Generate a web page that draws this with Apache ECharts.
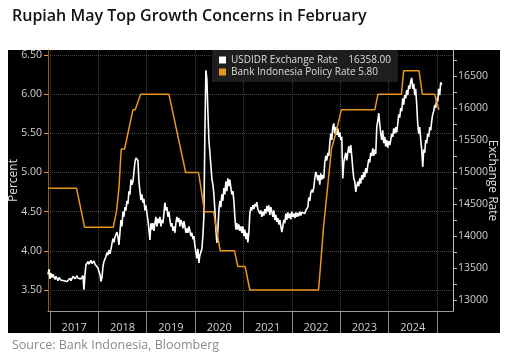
<!DOCTYPE html>
<html><head><meta charset="utf-8">
<script src="https://cdn.jsdelivr.net/npm/echarts@6/dist/echarts.min.js"></script>
<style>html,body{margin:0;padding:0;background:#fff}#c{width:512px;height:359px}</style>
</head><body><div id="c"></div>
<script>
// ---- data ----
const titleText = 'Rupiah May Top Growth Concerns in February';
const sourceText = 'Source: Bank Indonesia, Bloomberg';
const seriesNames = ['USDIDR Exchange Rate', 'Bank Indonesia Policy Rate'];
const lastValueLabels = ['16358.00', '5.80'];
const yearTicks = [2017, 2018, 2019, 2020, 2021, 2022, 2023, 2024, 2025];
const yearLabelPos = [2017.5, 2018.5, 2019.5, 2020.5, 2021.5, 2022.5, 2023.5, 2024.5];
const pctTicks = [3.5, 4.0, 4.5, 5.0, 5.5, 6.0, 6.5];
const fxLabelTicks = [13000, 13500, 14000, 14500, 15000, 15500, 16000, 16500];
const fxTicks = [13000, 13250, 13500, 13750, 14000, 14250, 14500, 14750, 15000, 15250, 15500, 15750, 16000, 16250, 16500, 16750];

// Policy rate: [decimal year, percent]
const rateTime = [2016.959, 2017.548, 2017.717, 2018.308, 2018.374, 2018.426, 2018.473, 2018.543, 2018.715, 2018.762, 2018.874,
  2019.459, 2019.806, 2020.072, 2020.196, 2020.382, 2020.519, 2020.816, 2020.884, 2021.035, 2021.132,
  2022.552, 2022.593, 2022.655, 2022.738, 2022.820, 2022.909, 2023.023, 2023.715, 2023.783, 2024.267, 2024.314,
  2024.630, 2024.700, 2024.955, 2025.043];
const rateValues = [4.8, 4.8, 4.3, 4.3, 4.5, 4.8, 5.3, 5.3, 5.8, 5.8, 6.0,
  6.0, 5.0, 5.0, 4.5, 4.5, 4.0, 4.0, 3.8, 3.8, 3.5,
  3.5, 3.8, 4.3, 4.8, 5.3, 5.5, 5.8, 5.8, 6.0, 6.0, 6.3,
  6.3, 6.0, 6.0, 5.8];

// USDIDR readings, one every ~7.5 days starting at fxStart (decimal year)
const fxStart = 2016.959;
const fxStep = 0.020661;
const fxValues = [
13400,13480,13330,13420,13350,13400,13360,13320,13370,13360,13300,13350,13340,13310,13290,13330,13300,13280,13320,13290,
13300,13320,13340,13300,13310,13370,13340,13330,13360,13380,13340,13360,13370,13330,13360,13380,13160,13400,13550,13570,
13600,13560,13580,13620,13570,13590,13610,13560,13590,13580,13500,13440,13400,13290,13350,13520,13600,13620,13680,13740,
13700,13780,13720,13790,13880,13960,13900,13980,13950,14060,13990,13860,14050,14250,14150,14380,14300,14450,14400,14550,
14500,14700,14650,14880,14800,14850,15000,15150,15220,15240,15180,14850,14700,14560,14650,14520,14580,14400,14480,14350,
14250,14100,13940,14200,14100,14200,14080,14200,14300,14150,14270,14200,14300,14150,14250,14200,14350,14520,14400,14450,
14300,14380,14250,14150,14200,14080,14150,14050,14200,14300,14220,14280,14150,14250,14200,14120,14230,14150,14050,14120,
14050,14150,14080,14000,14050,13950,14000,13850,13750,13650,13800,13580,13700,13750,13800,14000,14300,15600,16590,16450,
15950,15500,15300,15100,14900,14800,14650,14400,14100,13890,14100,14400,14550,14450,14650,14550,14750,14650,14850,14700,
14900,14780,14880,14750,14650,14700,14550,14300,14100,14200,14100,14180,14080,14150,14050,14150,14000,14100,13950,14050,
13900,14050,14350,14450,14400,14480,14420,14500,14460,14530,14420,14450,14350,14400,14300,14380,14320,14420,14350,14470,
14380,14480,14330,14450,14380,14300,14400,14250,14330,14220,14280,14180,14250,14150,14060,14150,14250,14200,14350,14250,
14370,14280,14350,14260,14380,14300,14350,14280,14370,14300,14360,14310,14380,14320,14370,14340,14390,14350,14400,14380,
14450,14600,14550,14680,14720,14680,14760,14900,15000,14950,14870,14950,14800,14980,14880,14950,14900,15150,15250,15180,
15300,15250,15450,15600,15500,15700,15760,15600,15700,15580,15680,15550,15620,15500,15550,14900,15150,15150,15300,15180,
15300,15400,15300,15420,15250,15050,14900,14850,14690,14780,14850,14780,14900,14820,14950,14880,15000,14920,15060,14980,
15100,15200,15150,15300,15250,15370,15250,15350,15280,15700,15800,15920,15750,15600,15500,15650,15450,15550,15400,15500,
15380,15480,15420,15500,15600,15550,15680,15600,15700,15620,15750,15900,15850,16000,15950,16150,16050,16200,16150,16280,
16200,16350,16300,16420,16470,16300,16380,16200,16300,16050,15750,15600,15700,15500,15350,15080,15350,15300,15500,15450,
15600,15550,15700,15650,15800,15900,15950,16050,16000,16150,16100,16300,16200,16400,16358];

// ---- chart ----
const FONT = 'Open Sans';
const ORANGE = '#e8961e';
const chart = echarts.init(document.getElementById('c'), null, {renderer: 'canvas'});
const fxData = fxValues.map((v, i) => [fxStart + i * fxStep, v]);
const rateData = rateTime.map((t, i) => [t, rateValues[i]]);

chart.setOption({
  backgroundColor: '#ffffff',
  animation: false,
  textStyle: {fontFamily: FONT},
  title: [
    {text: titleText, left: 7, top: 3, textStyle: {fontSize: 16, fontWeight: 600, color: '#111111', fontFamily: FONT}},
    {text: sourceText, left: 7, top: 334, textStyle: {fontSize: 12.5, fontWeight: 400, color: '#8a8a8a', fontFamily: FONT}}
  ],
  graphic: {elements: [
    {type: 'rect', left: 8, top: 50, shape: {width: 492, height: 283}, style: {fill: '#000'}, z: -100, silent: true}
  ]},
  legend: {
    left: 212, top: 50, orient: 'vertical', icon: 'rect', itemWidth: 7, itemHeight: 7, itemGap: 2,
    backgroundColor: '#1e1e1e', padding: [5, 7, 5, 7],
    data: seriesNames,
    textStyle: {color: '#dddddd', fontSize: 10, fontFamily: FONT,
      rich: {n: {width: 120, color: '#dddddd', fontSize: 10}, v: {width: 40, align: 'right', color: '#dddddd', fontSize: 10}}},
    formatter: function (name) {
      const i = seriesNames.indexOf(name);
      return i === 0 ? '{n|' + name + '}{v|' + lastValueLabels[0] + '}' : name + ' ' + lastValueLabels[1];
    }
  },
  grid: {left: 48, right: 59, top: 50, bottom: 48, containLabel: false, outerBoundsMode: 'none'},
  xAxis: {
    type: 'value', min: 2016.959, max: 2025.333,
    axisLine: {show: true, lineStyle: {color: '#9a9a9a', width: 1}},
    axisTick: {show: true, customValues: yearTicks, length: 22, lineStyle: {color: '#8a8a8a'}},
    axisLabel: {customValues: yearLabelPos, formatter: v => String(Math.floor(v)), color: '#d0d0d0', fontSize: 11, margin: 11},
    splitLine: {show: true, lineStyle: {color: '#444444', type: 'dotted'}}
  },
  yAxis: [
    {
      type: 'value', position: 'left', min: 3.232, max: 6.564,
      name: 'Percent', nameLocation: 'middle', nameGap: 28, nameRotate: 90, nameMoveOverlap: false,
      nameTextStyle: {color: '#dedede', fontSize: 12},
      axisLine: {show: true, lineStyle: {color: '#8a6018'}},
      axisTick: {show: true, customValues: pctTicks, length: 4, lineStyle: {color: ORANGE}},
      axisLabel: {customValues: pctTicks, formatter: v => v.toFixed(2), color: '#d0d0d0', fontSize: 10.5, margin: 6},
      splitLine: {show: true, lineStyle: {color: '#444444', type: 'dotted'}}
    },
    {
      type: 'value', position: 'right', min: 12828, max: 16906,
      name: 'Exchange Rate', nameLocation: 'middle', nameGap: 33, nameRotate: -90, nameMoveOverlap: false,
      nameTextStyle: {color: '#dedede', fontSize: 12},
      axisLine: {show: true, lineStyle: {color: '#bdbdbd'}},
      axisTick: {show: true, customValues: fxTicks, length: 4, lineStyle: {color: '#bdbdbd'}},
      axisLabel: {customValues: fxLabelTicks, formatter: v => String(v), color: '#d0d0d0', fontSize: 10.5, margin: 5},
      splitLine: {show: false}
    }
  ],
  series: [
    {name: seriesNames[0], type: 'line', yAxisIndex: 1, data: fxData, showSymbol: false, color: '#ffffff',
      lineStyle: {color: '#ffffff', width: 1.6}, z: 3},
    {name: seriesNames[1], type: 'line', yAxisIndex: 0, data: rateData, showSymbol: false, color: ORANGE,
      lineStyle: {color: ORANGE, width: 1.5}, z: 4}
  ]
});
</script></body></html>
